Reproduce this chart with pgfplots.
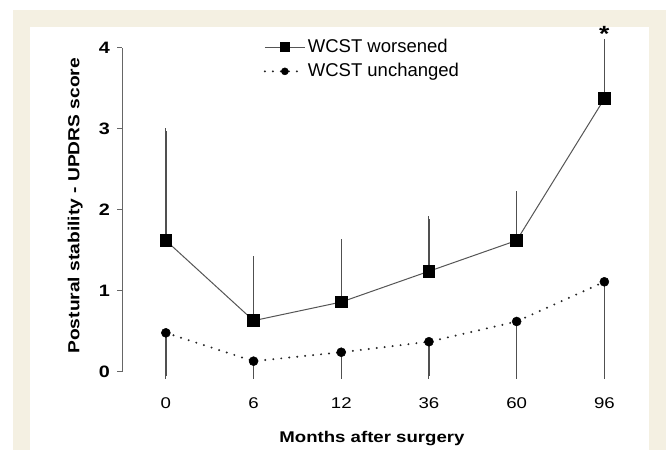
\documentclass[border=0pt]{standalone}
\usepackage{pgfplots}
\pgfplotsset{compat=1.18}
\usepackage{fontspec}
\setmainfont{Liberation Sans}[FakeStretch=1.2]
\newfontfamily\legfont{Liberation Sans}
\definecolor{cream}{RGB}{244,240,226}
\definecolor{linegray}{RGB}{85,85,85}
\definecolor{errgray}{RGB}{80,80,80}

\begin{document}
\fontsize{15}{18}\selectfont
\begin{tikzpicture}
% frame: white margin, cream border, white panel
\fill[white] (0,0) rectangle (666pt,450pt);
\fill[cream] (13pt,0) rectangle (666pt,440pt);
\fill[white] (30pt,0) rectangle (649pt,423pt);

\begin{axis}[
  at={(122pt,78.3pt)}, anchor=south west,
  x=87.7pt, y=81pt,
  xmin=-0.5, xmax=5.5, ymin=0, ymax=4,
  clip=false,
  axis y line=left, axis x line=bottom,
  axis line style={-},
  x axis line style={draw=none},
  y axis line style={draw=gray!80!black, line width=1pt},
  xtick={0,1,2,3,4,5},
  xticklabels={0,6,12,36,60,96},
  xtick style={draw=none},
  ytick={0,1,2,3,4},
  ytick style={draw=gray!80!black, line width=1pt},
  tick align=outside, major tick length=5pt,
  /pgf/number format/assume math mode=true,
  yticklabel style={font=\fontsize{16.5}{18}\selectfont\bfseries, xshift=-2pt},
  xticklabel style={font=\fontsize{15.5}{18}\selectfont, yshift=-16pt},
  xlabel={Months after surgery},
  xlabel style={font=\fontsize{15.5}{18}\selectfont\bfseries, at={(rel axis cs:0.475,-0.205)}, anchor=center},
  ylabel={Postural stability - UPDRS score},
  ylabel style={font=\fontsize{16}{18}\selectfont\bfseries, at={(rel axis cs:-0.089,0.512)}, anchor=center, rotate=0},
  legend style={draw=none, fill=none, at={(axis cs:1.115,4.13)}, anchor=north west,
    font=\legfont\fontsize{18.5}{21}\selectfont, row sep=4.5pt, inner sep=0pt},
  legend cell align=left,
  legend image code/.code={%
    \draw[mark repeat=2,mark phase=2,every mark/.append style={scale=0.78}]
      plot coordinates {(0cm,0cm) (0.7cm,0cm) (1.4cm,0cm)};},
]
\addplot[color=linegray, line width=1pt, mark=square*,
  mark options={fill=black, draw=black, solid, mark size=5.8pt},
  error bars/.cd, y dir=plus, y explicit,
  error bar style={draw=errgray, line width=1.3pt, solid},
  error mark options={draw=errgray, mark size=3pt, line width=1pt}]
  coordinates {
  (0,1.62) +- (0,1.35)
  (1,0.63) +- (0,0.76)
  (2,0.86) +- (0,0.74)
  (3,1.24) +- (0,0.64)
  (4,1.62) +- (0,0.57)
  (5,3.37) +- (0,0.70)
  };
\addlegendentry{WCST worsened}
\addplot[color=black!85, line width=2.2pt, line cap=round, dash pattern=on 0pt off 8pt,
  mark=*, mark options={fill=black, draw=black, solid, line width=0.5pt, mark size=4.5pt},
  error bars/.cd, y dir=minus, y explicit,
  error bar style={draw=errgray, line width=1.4pt, solid, line cap=butt},
  error mark options={draw=errgray, mark size=3pt, line width=1pt}]
  coordinates {
  (0,0.48) +- (0,0.53)
  (1,0.13) +- (0,0.18)
  (2,0.24) +- (0,0.29)
  (3,0.37) +- (0,0.42)
  (4,0.62) +- (0,0.67)
  (5,1.11) +- (0,1.16)
  };
\addlegendentry{WCST unchanged}
\node[anchor=south, inner sep=0pt, font=\fontsize{22}{22}\selectfont\bfseries] at (axis cs:5,4.08) {*};
\end{axis}
\pgfresetboundingbox
\useasboundingbox (0,0) rectangle (666pt,450pt);
\end{tikzpicture}
\end{document}
